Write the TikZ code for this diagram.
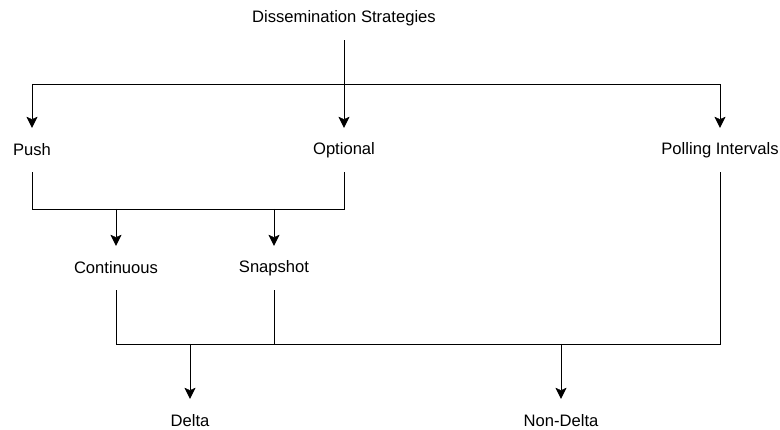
\documentclass[tikz,border=0pt]{standalone}
\usepackage{fontspec}
\setmainfont{Liberation Sans}
\usetikzlibrary{arrows.meta}
\tikzset{
    x=1pt, y=-1pt,
    >={Stealth[length=11pt, width=11pt, inset=2.5pt]},
    line width=1.4pt,
    label/.style={minimum height=44pt, inner sep=0pt, font=\fontsize{16.6}{19}\selectfont},
}

\begin{document}
\begin{tikzpicture}
\useasboundingbox (0,0) rectangle (780,430);

\node[label] (ds) at (344,18) {Dissemination Strategies};
\node[label] (push) at (32,150) {Push};
\node[label] (opt) at (344,150) {Optional};
\node[label] (poll) at (720,150) {Polling Intervals};
\node[label] (cont) at (116,268) {Continuous};
\node[label] (snap) at (274,268) {Snapshot};
\node[label] (delta) at (190,421) {Delta};
\node[label] (nondelta) at (561,421) {Non-Delta};

% first level
\draw[->] (ds) -- (opt);
\draw[->] (push.north |- 0,84) -- (push);
\draw[->] (push.north |- 0,84) -| (poll);

% second level
\draw (push) |- (opt.south |- 0,209) -- (opt);
\draw[->] (cont.north |- 0,209) -- (cont);
\draw[->] (snap.north |- 0,209) -- (snap);

% third level
\draw (cont) |- (poll.south |- 0,344) -- (poll);
\draw (snap) -- (snap.south |- 0,344);
\draw[->] (delta.north |- 0,344) -- (delta);
\draw[->] (nondelta.north |- 0,344) -- (nondelta);

\end{tikzpicture}
\end{document}
